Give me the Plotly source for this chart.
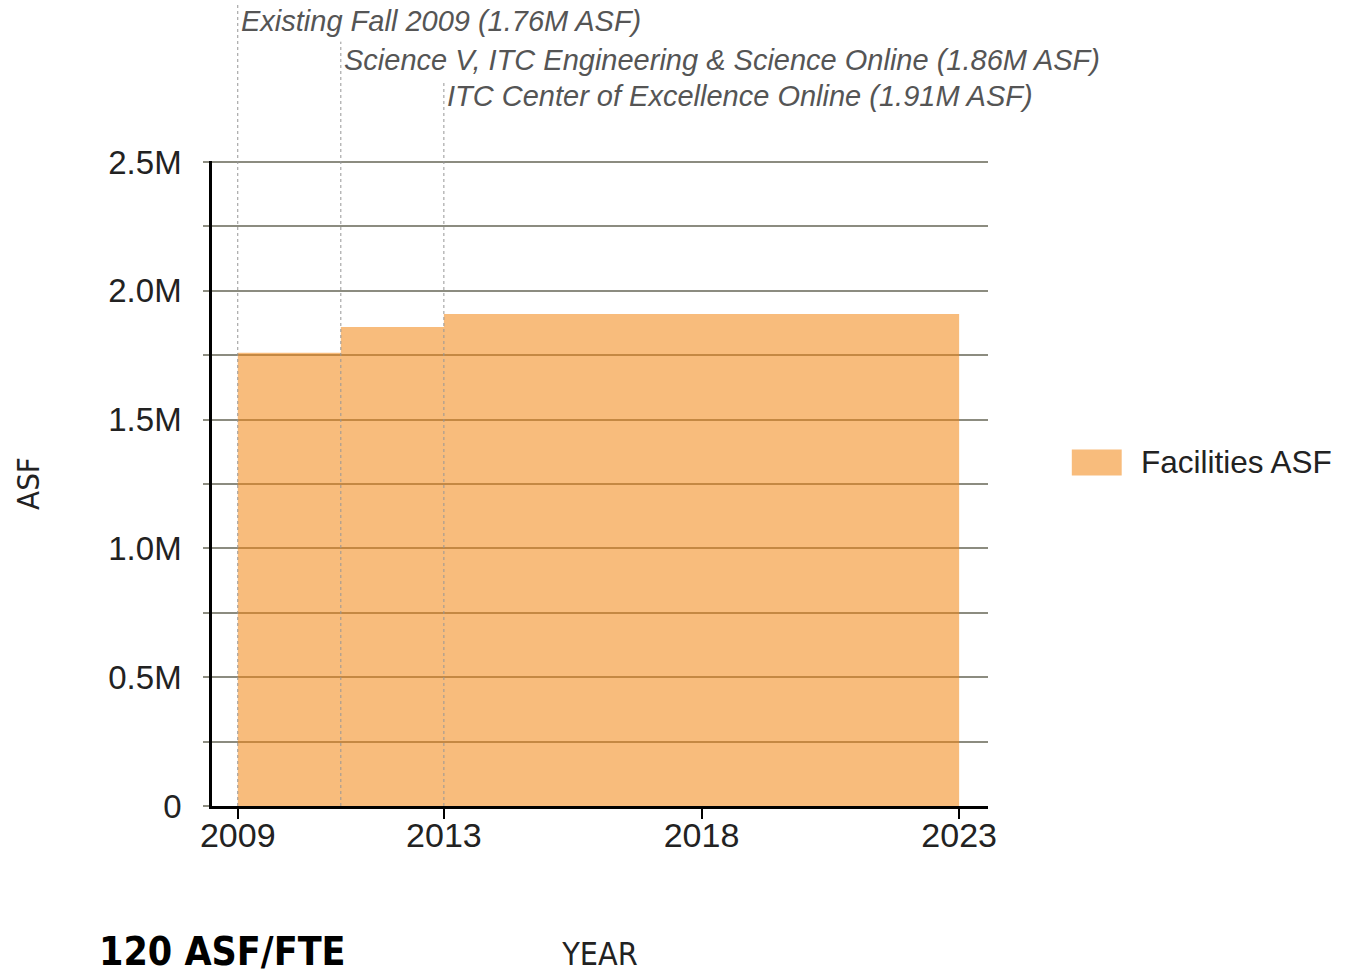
import plotly.graph_objects as go

# Facilities area (ASF) by year, held until the next building comes online
years = [2009, 2011, 2013, 2023]
asf = [1760000, 1860000, 1910000, 1910000]

# Milestones marked above the chart
milestone_years = [2009, 2011, 2013]
milestone_names = [
    "Existing Fall 2009",
    "Science V, ITC Engineering & Science Online",
    "ITC Center of Excellence Online",
]
milestone_asf = [1760000, 1860000, 1910000]

x_ticks = [2009, 2013, 2018, 2023]
y_ticks = [0, 500000, 1000000, 1500000, 2000000, 2500000]
y_tick_text = ["0", "0.5M", "1.0M", "1.5M", "2.0M", "2.5M"]

series_name = "Facilities ASF"

# layout positions of the milestone labels (paper units)
label_y = [1.217, 1.157, 1.1]
line_top = [1.245, 1.185, 1.125]

GRID = "rgb(140,140,128)"
FILL = "rgba(242,133,17,0.55)"
SWATCH = "rgb(248,188,124)"
COND = "DejaVu Sans Condensed, Liberation Sans, sans-serif"

fig = go.Figure()
fig.add_trace(go.Scatter(
    x=years, y=asf,
    mode="lines",
    line=dict(shape="hv", width=0, color=FILL),
    fill="tozeroy",
    fillcolor=FILL,
    name=series_name,
    showlegend=False,
    hoverinfo="x+y",
))

shapes = []
annotations = []
for yr, name, v, ly, lt in zip(milestone_years, milestone_names, milestone_asf, label_y, line_top):
    shapes.append(dict(
        type="line", xref="x", yref="paper",
        x0=yr, x1=yr, y0=0, y1=lt,
        line=dict(color="rgb(150,150,150)", width=1, dash="dot"),
        layer="above",
    ))
    annotations.append(dict(
        text=f"<i>{name} ({v / 1e6:.2f}M ASF)</i>",
        x=yr, xref="x", xanchor="left", xshift=1,
        y=ly, yref="paper", yanchor="middle",
        showarrow=False,
        font=dict(family="Liberation Sans", size=29, color="#555555"),
    ))

# legend key: swatch plus label to the right of the plot
shapes.append(dict(
    type="rect", xref="paper", yref="paper",
    x0=1.108, x1=1.1723, y0=0.5124, y1=0.5528,
    fillcolor=SWATCH, line=dict(width=0),
))
annotations.append(dict(
    text=series_name,
    x=1.1945, xref="paper", xanchor="left",
    y=0.5326, yref="paper", yanchor="middle",
    showarrow=False,
    font=dict(family="Liberation Sans", size=31.5, color="#222222"),
))

annotations.append(dict(
    text="<b>120 ASF/FTE</b>",
    x=-0.148, xref="paper", xanchor="left",
    y=-0.226, yref="paper", yanchor="middle",
    showarrow=False,
    font=dict(family=COND, size=39, color="#000000"),
))

fig.update_layout(
    width=1348, height=973, autosize=False,
    margin=dict(l=212, r=360, t=161, b=167),
    paper_bgcolor="white", plot_bgcolor="white",
    font=dict(family="Liberation Sans", size=31, color="#222222"),
    shapes=shapes,
    annotations=annotations,
    showlegend=False,
    xaxis=dict(
        range=[2008.5, 2023.56],
        tickvals=x_ticks,
        automargin=False,
        showgrid=False, zeroline=False,
        showline=True, linecolor="black", linewidth=2.5,
        ticks="outside", ticklen=10, tickwidth=2, tickcolor="black",
        ticklabelstandoff=-13,
        tickfont=dict(size=34, color="#222222"),
        title=dict(text="YEAR", standoff=95,
                   font=dict(family=COND, size=32, color="#222222")),
    ),
    yaxis=dict(
        range=[0, 2504000],
        tickvals=y_ticks, ticktext=y_tick_text,
        automargin=False,
        showgrid=True, gridcolor=GRID, gridwidth=1.5,
        zeroline=False,
        showline=True, linecolor="black", linewidth=2.5,
        ticks="outside", ticklen=6, tickwidth=1.5, tickcolor=GRID,
        ticklabelstandoff=15,
        tickfont=dict(size=33, color="#222222"),
        minor=dict(dtick=250000, showgrid=True, gridcolor=GRID, gridwidth=1.5,
                   ticks="outside", ticklen=6, tickwidth=1.5, tickcolor=GRID),
        title=dict(text="ASF", standoff=60,
                   font=dict(family=COND, size=31, color="#222222")),
    ),
)

fig.write_html("out.html")
